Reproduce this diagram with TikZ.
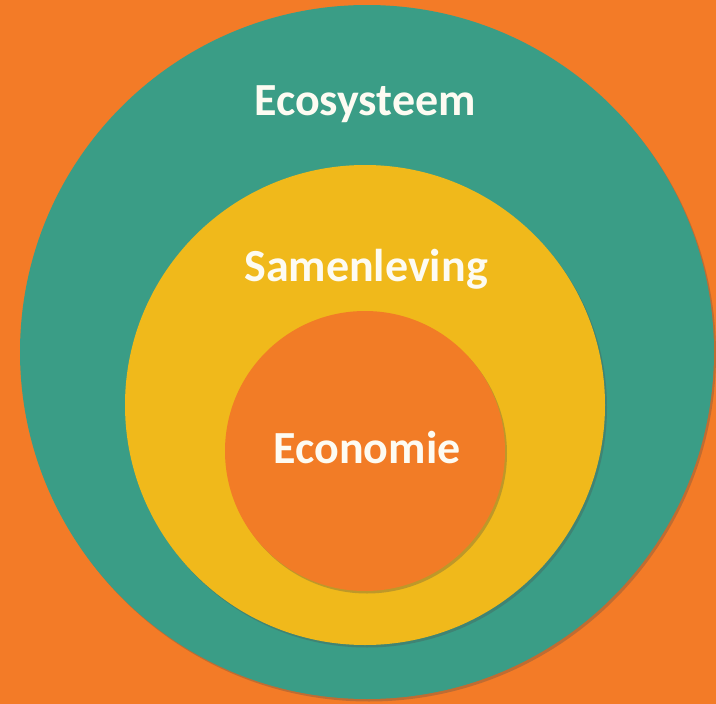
\documentclass[tikz,border=0pt]{standalone}
\usepackage{fontspec}
\setmainfont{Carlito}
\usetikzlibrary{shadows}
\definecolor{bgorange}{HTML}{F37B27}
\definecolor{ecogreen}{HTML}{3A9D86}
\definecolor{socyellow}{HTML}{F0B91B}
\definecolor{econorange}{HTML}{F27C26}
\definecolor{labelwhite}{HTML}{FDFBF2}
\tikzset{
  ring/.style={circle, inner sep=0pt, draw=none,
    drop shadow={shadow xshift=2pt, shadow yshift=-2.5pt, opacity=.3, fill=black!70}},
  label/.style={anchor=base, text=labelwhite, font=\bfseries\fontsize{46}{50}\selectfont, inner sep=0pt}
}
\begin{document}
\begin{tikzpicture}[x=1pt,y=1pt]
  \fill[bgorange] (0,0) rectangle (716,-704);
  \useasboundingbox (0,0) rectangle (716,-704);
  \node[ring, fill=ecogreen, minimum size=694pt] (eco) at (367,-352) {};
  \node[ring, fill=socyellow, minimum size=480pt] (soc) at (365,-405) {};
  \node[ring, fill=econorange, minimum size=280pt] (econ) at (365,-451) {};
  \node[label] (ecot) at (365,-115) {Ecosysteem};
  \node[label] (soct) at (366,-281) {Samenleving};
  \node[label] (econt) at (367,-463) {Economie};
\end{tikzpicture}
\end{document}
